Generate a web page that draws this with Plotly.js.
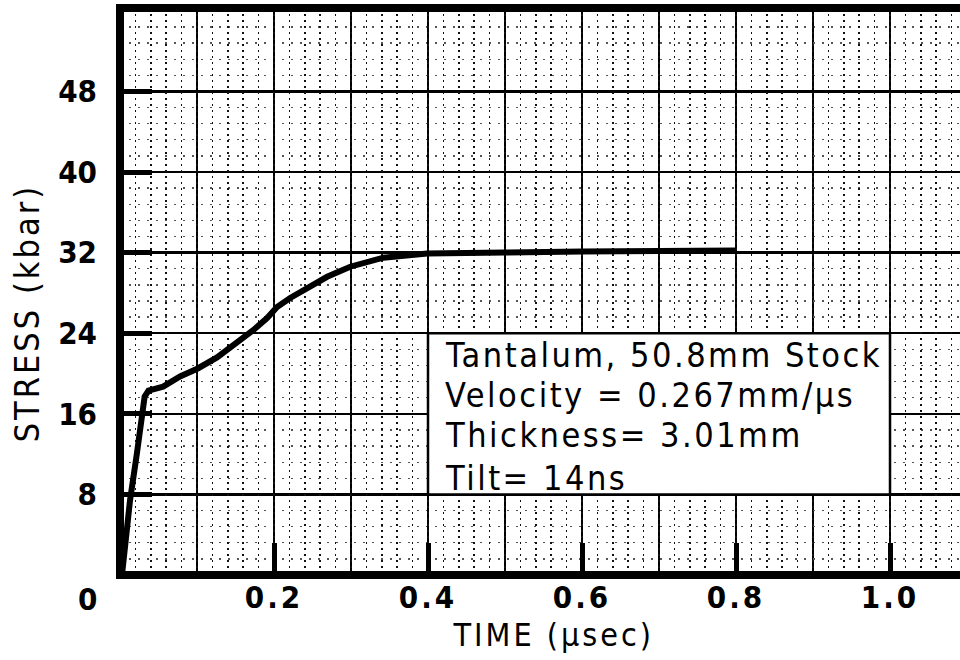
<!DOCTYPE html>
<html>
<head>
<meta charset="utf-8">
<script src="https://cdn.plot.ly/plotly-3.0.1.min.js"></script>
<style>
  html, body { margin: 0; padding: 0; background: #fff; }
  #chart { width: 960px; height: 660px; }
  /* spread-out lettering for labels and titles */
  .xtick text { letter-spacing: 3px; }
  .annotation[data-index="0"] text { letter-spacing: 3px; }
  .annotation[data-index="1"] text { letter-spacing: 3px; }
  .annotation[data-index="3"] text,
  .annotation[data-index="4"] text,
  .annotation[data-index="5"] text,
  .annotation[data-index="6"] text { letter-spacing: 2.5px; }
</style>
</head>
<body>
<div id="chart"></div>
<script>
// Stress history of a tantalum sample (50.8 mm stock)
const time = [0.003, 0.013, 0.022, 0.028, 0.032, 0.037, 0.045, 0.056, 0.078, 0.101,
              0.126, 0.152, 0.173, 0.191, 0.204, 0.221, 0.247, 0.269, 0.299, 0.342,
              0.399, 0.45, 0.5, 0.6, 0.7, 0.8];
const stress = [0.3, 7.4, 12.1, 15.7, 17.7, 18.3, 18.5, 18.7, 19.7, 20.5,
                21.6, 23.0, 24.3, 25.5, 26.6, 27.5, 28.6, 29.6, 30.6, 31.5,
                31.9, 32.0, 32.0, 32.1, 32.1, 32.2];

const xTickVals = [0.2, 0.4, 0.6, 0.8, 1.0];
const xTickText = ["0.2", "0.4", "0.6", "0.8", "1.0"];
const yTickVals = [8, 16, 24, 32, 40, 48];
const yTickText = ["8", "16", "24", "32", "40", "48"];
const originLabel = "0";

const xTitle = "TIME (µsec)";
const yTitle = "STRESS (kbar)";
const infoLines = [
  "Tantalum, 50.8mm Stock",
  "Velocity = 0.267mm/µs",
  "Thickness= 3.01mm",
  "Tilt= 14ns"
];

const FONT = "'DejaVu Sans Condensed', 'Liberation Sans Narrow', sans-serif";
const xRange = [0, 1.0909];
const yRange = [0, 56.28];

const stressTrace = {
  x: time,
  y: stress,
  type: "scatter",
  mode: "lines",
  line: { color: "#000", width: 6 },
  hoverinfo: "skip",
  showlegend: false
};

// empty helper trace so the fine-ruling axis gets drawn
const rulingTrace = {
  x: [], y: [], xaxis: "x2", yaxis: "y",
  type: "scatter", mode: "lines", hoverinfo: "skip", showlegend: false
};

const infoY = [21.8, 17.9, 13.9, 9.6];

const annotations = [
  { // x title
    text: xTitle, xref: "paper", yref: "paper", x: 0.5155, y: -0.106,
    xanchor: "center", yanchor: "middle", showarrow: false,
    font: { family: FONT, size: 32, color: "#000" }
  },
  { // y title
    text: yTitle, xref: "paper", yref: "paper", x: -0.111, y: 0.462,
    xanchor: "center", yanchor: "middle", textangle: -90, showarrow: false,
    font: { family: FONT, size: 34, color: "#000" }
  },
  { // origin label
    text: originLabel, xref: "paper", yref: "paper", x: 0, y: 0,
    xanchor: "center", yanchor: "middle", xshift: -33, yshift: -24, showarrow: false,
    font: { family: FONT, size: 31, color: "#000", weight: "bold" }
  }
].concat(infoLines.map((t, i) => ({
  text: t, xref: "x", yref: "y", x: 0.419, y: infoY[i],
  xanchor: "left", yanchor: "middle", align: "left", showarrow: false,
  font: { family: FONT, size: 34, color: "#000" }
})));

const borderLine = { color: "#000", width: 8 };

const layout = {
  width: 960,
  height: 660,
  margin: { l: 120, r: 0, t: 8, b: 85 },
  paper_bgcolor: "#fff",
  plot_bgcolor: "#fff",
  showlegend: false,
  xaxis: {
    range: xRange,
    tickmode: "array",
    tickvals: xTickVals,
    ticktext: xTickText,
    ticks: "inside",
    ticklen: 32,
    tickwidth: 5,
    tickcolor: "#000",
    ticklabelstandoff: 1,
    tickfont: { family: FONT, size: 31, color: "#000", weight: "bold" },
    showgrid: true,
    gridcolor: "#000",
    gridwidth: 2.5,
    minor: { tick0: 0, dtick: 0.1, showgrid: true, gridcolor: "#000", gridwidth: 2.5, ticks: "" },
    showline: false,
    zeroline: false,
    fixedrange: true
  },
  xaxis2: {
    overlaying: "x",
    anchor: "y",
    side: "bottom",
    range: xRange,
    tickmode: "linear",
    tick0: 0,
    dtick: 0.02,
    showticklabels: false,
    ticks: "",
    showgrid: true,
    gridcolor: "#111",
    gridwidth: 1.6,
    griddash: "2px,4px",
    showline: false,
    zeroline: false,
    fixedrange: true
  },
  yaxis: {
    range: yRange,
    tickmode: "array",
    tickvals: yTickVals,
    ticktext: yTickText,
    ticks: "inside",
    ticklen: 32,
    tickwidth: 5,
    tickcolor: "#000",
    ticklabelstandoff: 22,
    tickfont: { family: FONT, size: 31, color: "#000", weight: "bold" },
    showgrid: true,
    gridcolor: "#000",
    gridwidth: 2.5,
    minor: { tick0: 0, dtick: 1.6, showgrid: true, gridcolor: "#555", gridwidth: 1.3, griddash: "2px,7px", ticks: "" },
    showline: false,
    zeroline: false,
    fixedrange: true
  },
  shapes: [
    { // text panel
      type: "rect", xref: "x", yref: "y", x0: 0.4, x1: 1.0, y0: 8, y1: 24,
      fillcolor: "#fff", line: { color: "#000", width: 2.5 }, layer: "above"
    },
    { type: "line", xref: "paper", yref: "paper", x0: 0, x1: 0, y0: -0.007, y1: 1.007, line: borderLine, layer: "above" },
    { type: "line", xref: "paper", yref: "paper", x0: -0.004, x1: 1.01, y0: 1, y1: 1, line: borderLine, layer: "above" },
    { type: "line", xref: "paper", yref: "paper", x0: -0.004, x1: 1.01, y0: 0, y1: 0, line: borderLine, layer: "above" }
  ],
  annotations: annotations
};

Plotly.newPlot("chart", [stressTrace, rulingTrace], layout, { staticPlot: true, displayModeBar: false });
</script>
</body>
</html>
